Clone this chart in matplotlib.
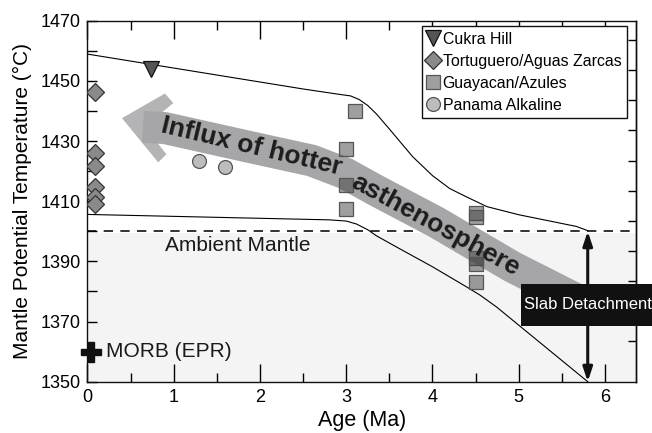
import numpy as np
import matplotlib
matplotlib.use("Agg")
import matplotlib.pyplot as plt
from matplotlib.patches import Polygon, Rectangle

plt.rcParams['font.family'] = ['Liberation Sans', 'DejaVu Sans']

# ---------------- data ----------------
cukra_age = [0.74]
cukra_T = [1453.8]

tort_age = [0.09, 0.09, 0.09, 0.09, 0.09, 0.09]
tort_T = [1446.4, 1426.1, 1421.8, 1414.8, 1411.5, 1409.1]

guay_age = [3.10, 3.00, 3.00, 3.00, 4.50, 4.50, 4.50, 4.50, 4.50]
guay_T = [1440.1, 1427.4, 1415.4, 1407.3, 1406.0, 1404.8, 1391.2, 1389.0, 1383.2]

pan_age = [1.29, 1.59]
pan_T = [1423.4, 1421.5]

morb_age = [0.04]
morb_T = [1360.0]

upper_age = [0.0, 2.5, 2.9, 3.05, 3.15, 3.25, 3.35, 3.5, 3.77, 4.0, 4.2, 4.39, 4.63, 5.0, 5.67, 5.8]
upper_T = [1458.9, 1447.3, 1445.6, 1445.0, 1443.8, 1441.8, 1439.0, 1434.0, 1424.8, 1418.5,
           1414.2, 1411.5, 1408.2, 1405.5, 1401.6, 1400.2]

lower_age = [0.0, 2.8, 3.0, 3.12, 3.25, 3.35, 3.6, 4.0, 4.39, 4.55, 4.74, 5.8]
lower_T = [1405.6, 1403.8, 1403.4, 1402.4, 1400.5, 1398.5, 1394.5, 1388.2, 1381.6, 1378.8,
           1374.9, 1350.0]

ambient_T = 1400
detach_age = 5.8

band_age = [0.643, 0.898, 1.883, 2.6, 2.984, 3.35, 4.038, 4.930, 5.799]
band_T = [1434.7, 1434.3, 1428.0, 1423.5, 1419.3, 1413.5, 1403.1, 1388.1, 1375.5]

head_age = [0.40, 0.898, 0.995, 0.66, 0.915, 0.820]
head_T = [1437.6, 1445.8, 1442.6, 1434.8, 1425.6, 1422.9]

xticks = [0, 1, 2, 3, 4, 5, 6]
yticks = [1350, 1370, 1390, 1410, 1430, 1450, 1470]
RIGHT_OFFSET = 3.5

# ---------------- figure ----------------
fig = plt.figure(figsize=(6.52, 4.33), dpi=100)
ax = fig.add_axes([0.1342, 0.1185, 0.8413, 0.8337])
ax.set_xlim(0, 6.36)
ax.set_ylim(1350, 1470)

# ambient mantle shading + dashed line
ax.axhspan(1350, ambient_T - 0.5, color='#f4f4f4', lw=0, zorder=0)
dl, = ax.plot([0, 6.36], [ambient_T, ambient_T], color='#111111', lw=1.2, zorder=1)
dl.set_dashes((5.6, 4.4))

# envelope lines
ax.plot(upper_age, upper_T, color='black', lw=0.8, zorder=2)
ax.plot(lower_age, lower_T, color='black', lw=0.8, zorder=2)

# big arrow: head (chevron) and curved shaft
ax.add_patch(Polygon(np.column_stack([head_age, head_T]), closed=True,
                     facecolor='#b4b4b6', edgecolor='none', zorder=3))
ax.plot(band_age, band_T, color='#a6a6a8', lw=23, solid_capstyle='butt',
        solid_joinstyle='round', zorder=3)

# data markers
ax.plot(tort_age, tort_T, ls='none', marker='D', ms=9, mfc='#8a8a8c', mec='#333333',
        mew=0.9, zorder=5, label='Tortuguero/Aguas Zarcas')
ax.plot(cukra_age, cukra_T, ls='none', marker='v', ms=11, mfc='#555555', mec='#111111',
        mew=0.9, zorder=5, label='Cukra Hill')
ax.plot(guay_age, guay_T, ls='none', marker='s', ms=10.5, mfc=(0.25, 0.25, 0.25, 0.5),
        mec='#555555', mew=0.9, zorder=5, label='Guayacan/Azules')
ax.plot(pan_age, pan_T, ls='none', marker='o', ms=10, mfc='#bdbdbd', mec='#555555',
        mew=0.9, zorder=5, label='Panama Alkaline')
ax.plot(morb_age, morb_T, ls='none', marker='P', ms=14, mfc='#111111', mec='#111111',
        zorder=5, clip_on=False)

# texts
ax.text(1.906, 1428.3, 'Influx of hotter', fontsize=19, fontweight='bold', color='#1c1c1c',
        rotation=-13.4, rotation_mode='anchor', ha='center', va='center', zorder=6)
ax.text(4.032, 1402.1, 'asthenosphere', fontsize=19, fontweight='bold', color='#1c1c1c',
        rotation=-28.5, rotation_mode='anchor', ha='center', va='center', zorder=6)
ax.text(1.74, 1395.3, 'Ambient Mantle', fontsize=15, color='#1a1a1a',
        ha='center', va='center', zorder=6)
ax.text(0.22, 1360, 'MORB (EPR)', fontsize=15, color='#1a1a1a',
        ha='left', va='center', zorder=6)

# slab detachment arrow + box
ax.annotate('', xy=(detach_age, ambient_T), xytext=(detach_age, 1350),
            arrowprops=dict(arrowstyle='<|-|>,head_length=0.6,head_width=0.2',
                            mutation_scale=14, lw=2.2, color='#111111',
                            shrinkA=0, shrinkB=0), zorder=7, annotation_clip=False)
ax.add_patch(Rectangle((5.03, 1368.5), 2.0, 14.0, facecolor='#111111', edgecolor='none',
                       zorder=8, clip_on=False))
ax.text(5.06, 1375.5, 'Slab Detachment', fontsize=12.0, color='white',
        ha='left', va='center', zorder=9, clip_on=False)

# axes styling
ax.set_xticks(xticks)
ax.set_xticks(np.arange(0.5, 6.4, 1.0), minor=True)
ax.set_yticks(yticks)
ax.set_yticks(np.arange(1360, 1470, 20), minor=True)
ax.tick_params(axis='x', which='major', direction='in', length=13, width=1.0,
               top=True, labelsize=13, pad=5)
ax.tick_params(axis='x', which='minor', direction='in', length=6.5, width=1.0, top=True)
ax.tick_params(axis='y', which='both', direction='in', length=7.2, width=1.0,
               right=False, labelsize=13, pad=5)
for sp in ax.spines.values():
    sp.set_linewidth(1.0)
    sp.set_color('#111111')

sec = ax.secondary_yaxis('right', functions=(lambda y: y - RIGHT_OFFSET,
                                              lambda y: y + RIGHT_OFFSET))
sec.set_yticks(np.arange(1360, 1470, 10))
sec.tick_params(direction='in', length=6, width=1.0, labelright=False)
sec.spines['right'].set_linewidth(1.0)

ax.set_xlabel('Age (Ma)', fontsize=15.5, labelpad=3)
ax.set_ylabel('Mantle Potential Temperature (°C)', fontsize=15, labelpad=6)

# legend
h, l = ax.get_legend_handles_labels()
order = ['Cukra Hill', 'Tortuguero/Aguas Zarcas', 'Guayacan/Azules', 'Panama Alkaline']
hh = [h[l.index(o)] for o in order]
leg = ax.legend(hh, order, loc='upper right', bbox_to_anchor=(0.9836, 0.9853),
                fontsize=11.4, handlelength=0.7, handletextpad=0.25, borderpad=0.35,
                labelspacing=0.45, borderaxespad=0, fancybox=False, framealpha=1,
                edgecolor='#111111')
leg.get_frame().set_linewidth(1.0)
leg.set_zorder(10)

fig.savefig('out.png', dpi=100)
